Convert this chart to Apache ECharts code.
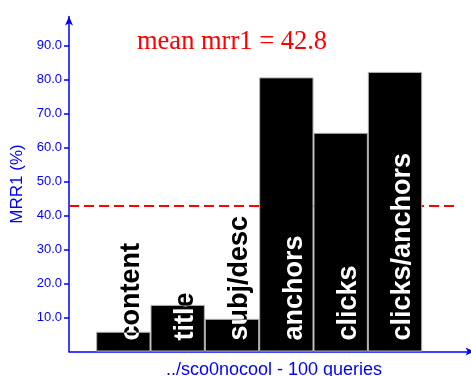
<!DOCTYPE html>
<html>
<head>
<meta charset="utf-8">
<script src="https://cdn.jsdelivr.net/npm/echarts@6/dist/echarts.min.js"></script>
<style>html,body{margin:0;padding:0;background:#fff}#chart{width:471px;height:376px}</style>
</head>
<body>
<div id="chart"></div>
<script>
// ---- data ----
const categories = ['content', 'title', 'subj/desc', 'anchors', 'clicks', 'clicks/anchors'];
const barPositions = [1, 2, 3, 4, 5, 6];
const mrr1 = [5.8, 13.7, 9.6, 80.6, 64.3, 82.2];
const meanMrr1 = 42.8;
const meanLineX = [0, 7.14];
const yTickValues = [10, 20, 30, 40, 50, 60, 70, 80, 90];
const titleText = 'mean mrr1 = 42.8';
const xAxisName = '../sco0nocool - 100 queries';
const yAxisName = 'MRR1 (%)';

const BLUE = '#0000ff';
const chart = echarts.init(document.getElementById('chart'), null, {renderer: 'canvas'});

const barData = barPositions.map((x, i) => [x, mrr1[i]]);
const labelData = barPositions.map((x, i) => [x, mrr1[i]]);
const meanData = meanLineX.map(x => [x, meanMrr1]);

chart.setOption({
  backgroundColor: '#ffffff',
  animation: false,
  title: {
    text: titleText,
    left: 137,
    top: 29,
    padding: 0,
    textStyle: {color: '#ff0000', fontFamily: '"Liberation Serif", "Times New Roman", serif', fontWeight: 'normal', fontSize: 26.5}
  },
  grid: {left: 69, right: 1, top: 16.5, bottom: 24.5, containLabel: false, outerBoundsMode: 'none'},
  xAxis: {
    type: 'value', min: 0, max: 7.38,
    name: xAxisName, nameLocation: 'middle', nameGap: 10,
    nameTextStyle: {color: BLUE, fontFamily: '"Liberation Sans", Arial, sans-serif', fontSize: 18, verticalAlign: 'top', padding: [0, 0, 0, 9]},
    axisLine: {lineStyle: {color: BLUE, width: 1.5}, symbol: ['none', 'arrow'], symbolSize: [6, 9], symbolOffset: [0, 4.5]},
    axisTick: {show: false}, axisLabel: {show: false}, splitLine: {show: false}
  },
  yAxis: {
    type: 'value', min: 0, max: 98.5,
    name: yAxisName, nameLocation: 'middle', nameGap: 41, nameRotate: 90,
    nameTextStyle: {color: BLUE, fontFamily: '"Liberation Sans", Arial, sans-serif', fontSize: 17},
    axisLine: {show: true, lineStyle: {color: BLUE, width: 1.5}, symbol: ['none', 'arrow'], symbolSize: [6, 9]},
    axisTick: {show: true, length: 5, customValues: yTickValues, lineStyle: {color: BLUE, width: 1.5}},
    axisLabel: {customValues: yTickValues, formatter: v => v.toFixed(1), color: BLUE, fontFamily: '"Liberation Sans", Arial, sans-serif', fontSize: 13, margin: 7},
    splitLine: {show: false}
  },
  series: [
    {
      type: 'line', data: meanData, z: 1, symbol: 'none', silent: true,
      lineStyle: {color: '#ff0000', width: 2, type: [10, 5]}
    },
    {
      type: 'bar', data: barData, z: 2, barWidth: '100%',
      itemStyle: {color: '#000000', borderColor: '#b0b0b0', borderWidth: 1}
    },
    {
      type: 'custom', data: labelData, z: 3, silent: true,
      renderItem: function (params, api) {
        const p = api.coord([api.value(0), 0]);
        return {
          type: 'text',
          x: p[0] + 8,
          y: p[1] - 11,
          rotation: Math.PI / 2,
          style: {
            text: categories[params.dataIndex],
            fill: '#ffffff',
            font: 'bold 27px "Liberation Sans", Arial, sans-serif',
            align: 'left',
            verticalAlign: 'middle'
          }
        };
      }
    }
  ]
});

// Labels are drawn white with a 'difference' blend, so they read white on the
// black bars and black on the white background (as in the reference).
(function applyLabelBlend() {
  const zr = chart.getZr();
  zr.storage.getDisplayList(true).forEach(function (el) {
    if (el.style && categories.indexOf(el.style.text) >= 0) {
      el.style.blend = 'difference';
      el.markRedraw();
    }
  });
  zr.refreshImmediately();
})();
</script>
</body>
</html>
